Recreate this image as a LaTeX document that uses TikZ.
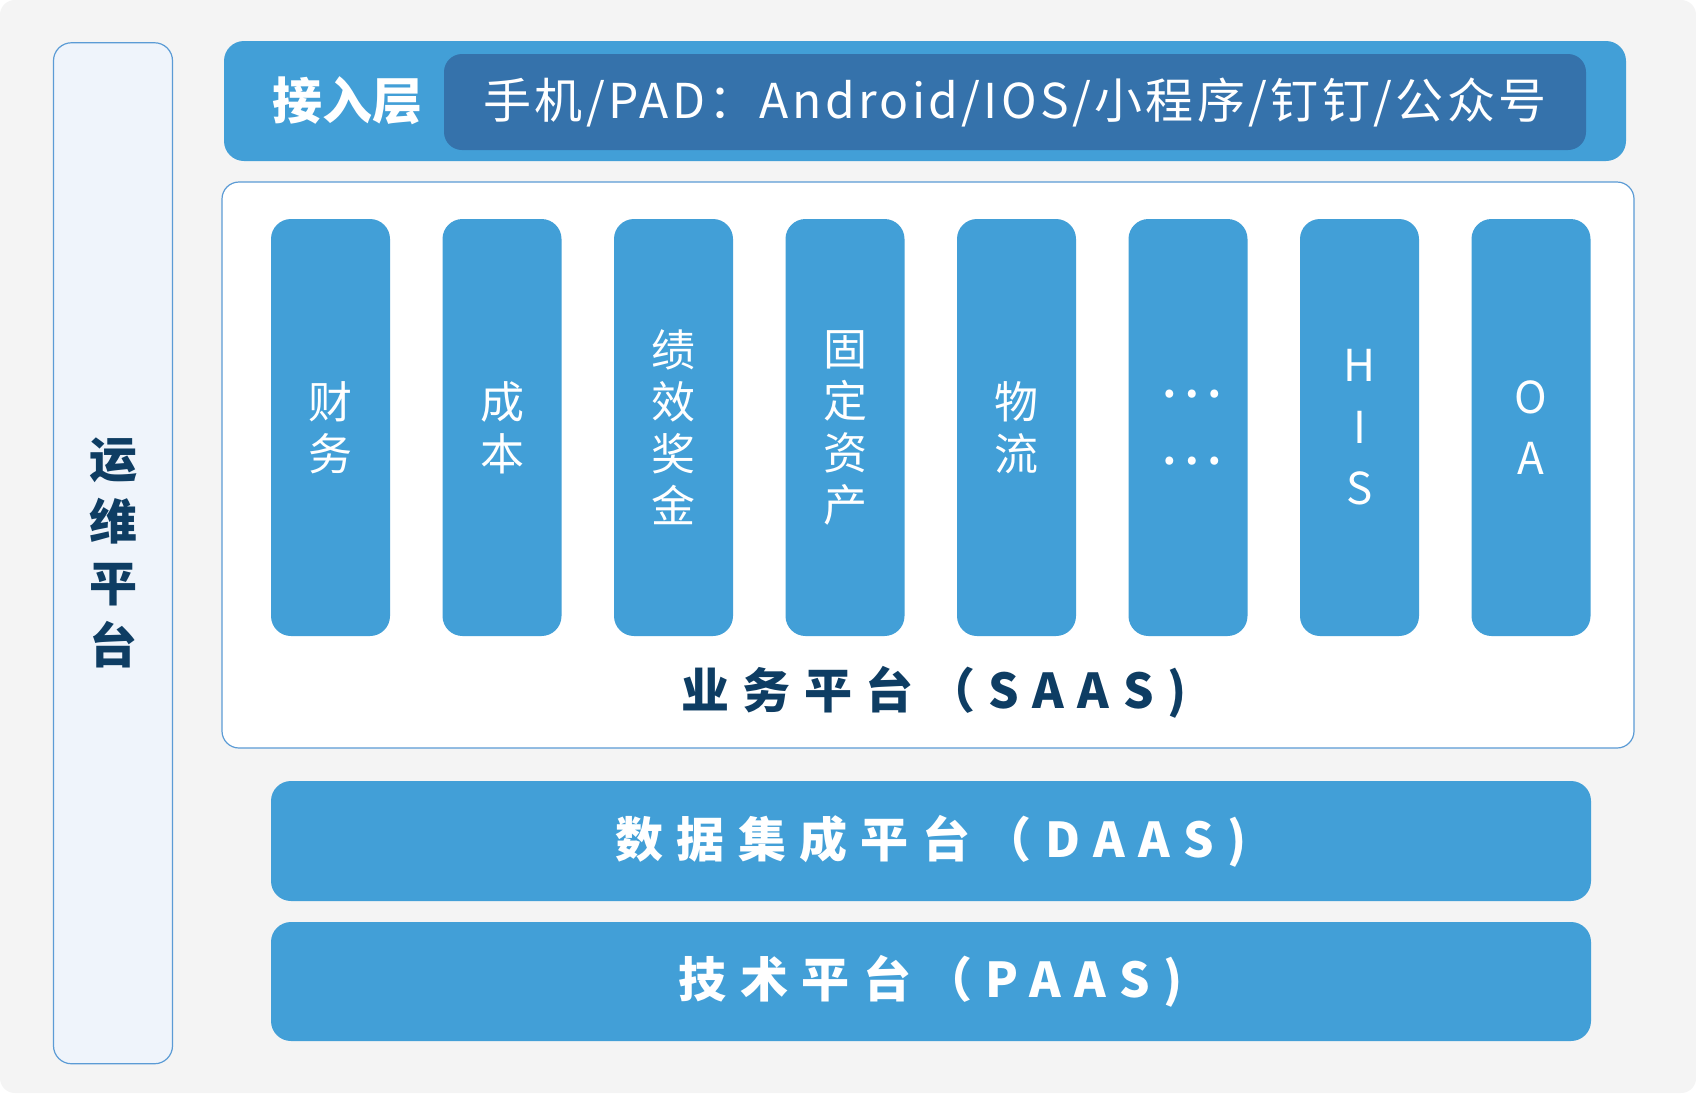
\documentclass[tikz,border=0pt]{standalone}
\usepackage{fontspec}
\setmainfont{Noto Sans CJK SC}
\definecolor{bgc}{HTML}{F4F4F4}
\definecolor{blu}{HTML}{429FD7}
\definecolor{dkb}{HTML}{3572AB}
\definecolor{pale}{HTML}{EFF4FB}
\definecolor{edge}{HTML}{5B9BD5}
\definecolor{navy}{HTML}{0E3D63}
\begin{document}
\begin{tikzpicture}[x=1pt,y=-1pt,
  panel/.style={rectangle,inner sep=0pt,outer sep=0pt},
  colbox/.style={panel,fill=blu,rounded corners=20pt,minimum width=119pt,minimum height=417pt,text=white,align=center,font=\fontsize{44}{52}\selectfont},
  wide/.style={panel,fill=blu,rounded corners=20pt,minimum width=1320pt,text=white},
  spaced/.style={font=\fontsize{48}{52}\selectfont\bfseries\addfontfeature{LetterSpace=28}}
]
\useasboundingbox (0,0) rectangle (1696,1093);
\fill[white] (0,0) rectangle (1696,1093);
\fill[bgc,rounded corners=15pt] (0,0) rectangle (1696,1093);

% left ops panel
\node[panel,fill=pale,draw=edge,line width=1.2pt,rounded corners=18pt,minimum width=119pt,minimum height=1021pt,
  text=navy,align=center,font=\fontsize{48}{62}\selectfont\bfseries] (ops) at (113,553.25) {运\\维\\平\\台};

% access layer
\node[panel,fill=blu,rounded corners=20pt,minimum width=1402pt,minimum height=120pt] (acc) at (925,101) {};
\node[panel,text=white,font=\fontsize{50}{52}\selectfont\bfseries] (acct) at (347.5,101) {接入层};
\node[panel,fill=dkb,rounded corners=18pt,minimum width=1142pt,minimum height=96pt,text=white,
  font=\fontsize{48}{52}\selectfont\addfontfeature{LetterSpace=7}] (dev) at (1015,102) {手机/PAD：Android/IOS/小程序/钉钉/公众号};

% SaaS
\node[panel,fill=white,draw=edge,line width=1.2pt,rounded corners=17pt,minimum width=1412pt,minimum height=566pt] (saas) at (928,465) {};
\node[colbox] (c1) at (330.5,427.5) {财\\务};
\node[colbox] (c2) at (502,427.5) {成\\本};
\node[colbox] (c3) at (673.5,427.5) {绩\\效\\奖\\金};
\node[colbox] (c4) at (845,427.5) {固\\定\\资\\产};
\node[colbox] (c5) at (1016.5,427.5) {物\\流};
\node[colbox] (c6) at (1188,427.5) {};
\node[panel,text=white,align=center,font=\fontsize{60}{67}\selectfont] (c6t) at (1191,427.5) {…\\…};
\node[colbox,font=\fontsize{44}{61.5}\selectfont] (c7) at (1359.5,427.5) {H\\I\\S};
\node[colbox,font=\fontsize{44}{61.5}\selectfont] (c8) at (1531,427.5) {O\\A};
\node[panel,text=navy,spaced] (saast) at (934,692) {业务平台（SAAS)};

% DaaS / PaaS
\node[wide,minimum height=120pt,spaced] (daas) at (931,841) {数据集成平台（DAAS)};
\node[wide,minimum height=119pt,spaced] (paas) at (931,981.5) {技术平台（PAAS)};
\end{tikzpicture}
\end{document}
